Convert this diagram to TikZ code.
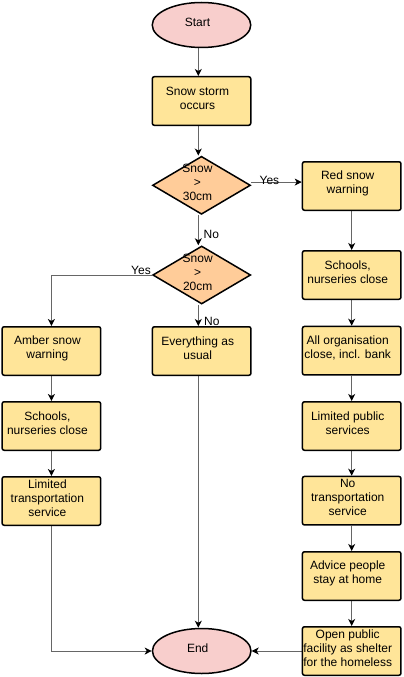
\documentclass[tikz,border=0pt]{standalone}
\usepackage{fontspec}
\setmainfont{Liberation Sans}
\usetikzlibrary{shapes.geometric,arrows.meta,backgrounds,calc}
\definecolor{pinkfill}{HTML}{F8CECC}
\definecolor{boxfill}{HTML}{FFE599}
\definecolor{diafill}{HTML}{FFCC99}
\definecolor{linegray}{HTML}{666666}
\tikzset{
  every node/.style={font=\fontsize{12bp}{14bp}\selectfont},
  lbl/.style={align=center,inner sep=0pt,xshift=-4bp,yshift=3bp},
  box/.style={draw=black,line width=1.5bp,fill=boxfill,rounded corners=2bp,minimum width=98.5bp,minimum height=48.5bp,inner sep=0pt},
  term/.style={draw=black,line width=1.5bp,fill=pinkfill,ellipse,minimum width=98.5bp,minimum height=45bp,inner sep=0pt},
  decision/.style={draw=black,line width=1.5bp,fill=diafill,diamond,minimum width=98bp,minimum height=58bp,inner sep=0pt},
  arr/.style={draw=linegray,line width=1bp,-{Stealth[black,length=7bp,width=7bp,inset=2bp]}},
  edgelbl/.style={inner sep=0pt}
}
\begin{document}
\begin{tikzpicture}[x=1bp,y=-1bp]
\useasboundingbox (0,0) rectangle (403,677);
\coordinate (cx) at (198.3,0);
% main column
\node[term, label={[lbl]center:Start}] (start) at (201.5,25) {};
\node[box, label={[lbl]center:{Snow storm\\occurs}}] (storm) at (201.5,101) {};
\node[decision, label={[lbl]center:{Snow\\>\\30cm}}] (d1) at (201.5,185.3) {};
\node[decision, label={[lbl]center:{Snow\\>\\20cm}}] (d2) at (201.7,275) {};
\node[box, label={[lbl]center:{Everything as\\usual}}] (usual) at (201.7,351) {};
\node[term, label={[lbl]center:End}] (end) at (201.7,651) {};
% right column
\node[box, label={[lbl]center:{Red snow\\warning}}] (red) at (351.7,186) {};
\node[box, label={[lbl]center:{Schools,\\nurseries close}}] (schoolsR) at (351.7,275) {};
\node[box, label={[lbl]center:{All organisation\\close, incl. bank}}] (allorg) at (351.7,350.7) {};
\node[box, label={[lbl]center:{Limited public\\services}}] (limpub) at (351.7,426) {};
\node[box, label={[lbl]center:{No\\transportation\\service}}] (notrans) at (351.7,500.7) {};
\node[box, label={[lbl]center:{Advice people\\stay at home}}] (advice) at (351.7,576) {};
\node[box, label={[lbl]center:{Open public\\facility as shelter\\for the homeless}}] (open) at (351.7,651) {};
% left column
\node[box, label={[lbl]center:{Amber snow\\warning}}] (amber) at (51.4,351) {};
\node[box, label={[lbl]center:{Schools,\\nurseries close}}] (schoolsL) at (51.4,426) {};
\node[box, label={[lbl]center:{Limited\\transportation\\service}}] (limtrans) at (51.4,501) {};
\begin{scope}[on background layer]
\draw[arr] (start.south -| cx) -- (storm.north -| cx);
\draw[arr] (storm.south -| cx) -- (d1.north -| cx);
\draw[arr] ([yshift=3.2bp]d1.east) coordinate (p1) -- (p1 -| red.west)
  node[edgelbl,pos=0.36,yshift=2bp] (yes1) {Yes};
\draw[arr] (d1.south -| cx) -- (d2.north -| cx);
\node[edgelbl,anchor=west] (no1) at (203.5,234.5) {No};
\draw[arr] (d2.west) -| (amber.north);
\node[edgelbl,anchor=base east] (yes2) at ([xshift=-1bp,yshift=1bp]d2.west) {Yes};
\draw[arr] (d2.south -| cx) -- (usual.north -| cx);
\node[edgelbl,anchor=west] (no2) at (204,321.5) {No};
\draw[arr] (usual.south -| cx) -- (end.north -| cx);
\draw[arr] (amber) -- (schoolsL);
\draw[arr] (schoolsL) -- (limtrans);
\draw[arr] (limtrans.south) |- (end.west);
\draw[arr] (red) -- (schoolsR);
\draw[arr] (schoolsR) -- (allorg);
\draw[arr] (allorg) -- (limpub);
\draw[arr] (limpub) -- (notrans);
\draw[arr] (notrans) -- (advice);
\draw[arr] (advice) -- (open);
\draw[arr] (open.west) -- (end.east);
\end{scope}
\end{tikzpicture}
\end{document}
